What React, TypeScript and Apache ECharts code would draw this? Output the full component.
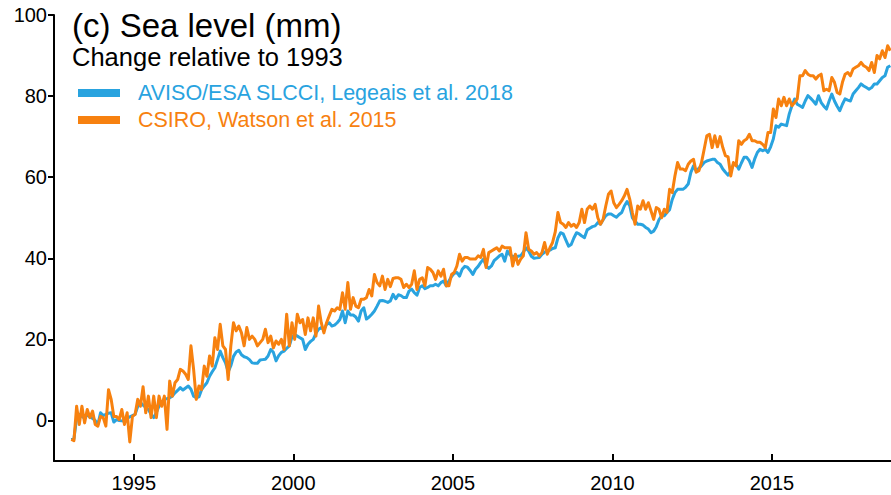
import React, { useEffect, useRef } from "react";
import * as echarts from "echarts";

// ---- data ----
const START_YEAR = 1993; // monthly values, first month = Jan 1993
const xTickYears = [1995, 2000, 2005, 2010, 2015];
const yTickValues = [0, 20, 40, 60, 80, 100];
const seriesNames = ["AVISO/ESA SLCCI, Legeais et al. 2018", "CSIRO, Watson et al. 2015"];
const titleText = "(c) Sea level (mm)";
const subtitleText = "Change relative to 1993";

// AVISO/ESA SLCCI, mm, one row per year
const avisoMm = [
  -4.7, -4.5, 0.5, 1.5, 1, 0.5, 1.5, 0.8, 0.5, 0, -1, 1.9,
  1.2, 1.5, 1.8, 1.9, -0.4, 0.2, 0, -0.1, -0.2, 0.5, 0.9, 1.2,
  1.5, 3.5, 4.4, 3.8, 3.2, 2.7, 1.5, 0.7, 2, 3.5, 4.5, 5.2,
  5.4, 5.6, 6, 6.8, 7.4, 8.1, 7.5, 8, 8.5, 7.7, 6, 5.6,
  5.8, 7.6, 8.5, 9.3, 10.9, 12, 13, 15, 17.1, 15.5, 14.2, 12,
  13.5, 15.8, 16.9, 17.3, 16.2, 15.7, 15.5, 15, 14.2, 14.1, 14.1, 14.9,
  15, 15.1, 15.9, 17.5, 16.8, 14.7, 16, 16.8, 17.1, 17.8, 18.4, 20.6,
  21.2, 20.8, 20.4, 20, 17.5, 18.8, 19.5, 20, 21.5, 22.5, 22.9, 22.4,
  23.7, 24.1, 23.3, 23.5, 24.1, 24.9, 27, 24.1, 27, 26, 26, 25.5,
  24.5, 27, 27.8, 25, 25.5, 26.2, 27, 28.2, 29.5, 29.6, 29.4, 29.1,
  29.5, 31.1, 30, 31, 30.8, 30.3, 30.3, 31.9, 32.4, 31.5, 30.9, 32.8,
  33.2, 32.5, 32.8, 33.2, 33.2, 33.6, 33.2, 34, 34.4, 33.2, 34.4, 35.5,
  36.3, 36.5, 35.6, 37.3, 38, 37.8, 37, 36, 37.3, 38, 39, 39.8,
  38.1, 37.5, 38.1, 39.4, 40, 40.6, 41, 39.3, 41.8, 40.8, 40.5, 40.3,
  40.5, 40.6, 41.5, 42.6, 41.8, 40.5, 40, 40.1, 40.2, 41, 41.5, 41.8,
  42, 42.4, 42.6, 45, 46.3, 46, 44.5, 43, 43.4, 45, 46.3, 46,
  45.5, 45.1, 47, 47.4, 47.8, 48, 48.8, 48.4, 49.5, 50.5, 50.9, 50.9,
  50.5, 50.1, 50.8, 51.3, 52.9, 54, 53, 50, 49.2, 48.4, 48.4, 48.2,
  47.6, 47.2, 46.3, 46.7, 47.8, 49.5, 50.5, 50.5, 51.3, 52, 54.5, 56.2,
  57, 57, 57, 57.5, 58.3, 61.2, 62.8, 61.5, 62.2, 62.8, 63.6, 64,
  64.2, 64.4, 64.4, 63.6, 63.2, 62, 61.2, 60.5, 61.5, 63.2, 63.2, 62,
  63.5, 64.9, 64.9, 64, 62.4, 64.5, 66.1, 66.9, 66.5, 66.9, 66.1, 67.5,
  69.4, 72.7, 72.3, 73.1, 72.9, 72.7, 75.6, 77.6, 79.3, 78, 77.6, 77.2,
  78.8, 80.1, 79.5, 78.8, 78, 80.1, 78.4, 77.5, 76.8, 78.8, 80.5, 78.8,
  77.5, 76.4, 78, 79.3, 79, 78.8, 80.5, 81.3, 82.1, 83, 82.5, 82.1,
  81.7, 82.1, 83, 83, 83.8, 84.6, 85, 87.1, 87.5,
];

// CSIRO, mm, one row per year
const csiroMm = [
  -4.7, -5, 3.5, -1, 3.5, -0.6, 2.7, 0.7, 2.3, -1, -1.4, 1,
  0.7, -1.4, 7.6, 5.2, 1, 1, 0.2, 2.7, -1, 1.9, -5.3, 1,
  1.5, 5.2, 3.5, 8.3, 1.9, 6, 0.7, 6, 0.7, 6, 3.5, 6,
  -2.2, 9.7, 6, 9.3, 10.1, 12.6, 12.2, 11.4, 10.1, 18.4, 12.6, 5.2,
  8.5, 7.6, 13.4, 10.9, 15.9, 13.4, 20.4, 17.5, 23.7, 18.4, 17.5, 10.1,
  18.4, 24.1, 22.1, 23.3, 21.6, 18.4, 22.9, 20, 20.8, 20, 18.4, 19.2,
  20, 22.5, 19.2, 20.8, 17.9, 19.6, 18.8, 20, 17.5, 26.2, 18.4, 24.1,
  20, 26.2, 24.1, 24.9, 21.2, 25.3, 22.1, 25.3, 20.8, 28.2, 24.1, 21.6,
  24.1, 25.8, 27.4, 27, 27.8, 27.4, 31.5, 27.4, 34, 27.4, 30.3, 28.2,
  27.8, 29.9, 29.9, 30.3, 32.3, 30.7, 36, 34, 33.2, 35.6, 32.3, 34.8,
  33, 35, 35.2, 35.2, 34.8, 32.8, 33.6, 32.8, 33.6, 36.9, 32.3, 34.8,
  35.2, 33.2, 37.7, 37.3, 36.5, 34.8, 36.9, 35.6, 37.3, 33.2, 33.2, 36,
  36.5, 38.1, 41, 39.3, 40.2, 40.2, 39.8, 39.8, 39.8, 40.6, 40.2, 42.2,
  37.7, 41.4, 41.8, 42.2, 42.6, 41.8, 43, 42.6, 42.6, 42.6, 38.1, 41,
  38.5, 39.8, 40.6, 46.3, 42.2, 41.8, 41, 41.4, 40.6, 41.4, 43.9, 41,
  42.6, 43.9, 46.5, 51.3, 48.8, 48.4, 47.6, 48.8, 47.9, 48.4, 47.6, 48.8,
  52.1, 48.8, 52.1, 52.9, 52.1, 53.3, 50, 48.4, 49.6, 52.9, 55.8, 56.6,
  53.7, 52.5, 53.3, 54.2, 55.4, 57, 54.6, 51.3, 48.4, 52.9, 52.1, 54.2,
  52.1, 53.7, 51.7, 49.6, 52.5, 52.1, 50, 52.1, 51.3, 57, 56.2, 60.3,
  63.6, 62, 62, 61.6, 63.2, 64, 64.4, 61.2, 61.6, 63.6, 66.9, 70.2,
  70.6, 67.3, 70.2, 67.5, 70, 67.3, 65.3, 65, 60.3, 63.6, 62.8, 69,
  68.1, 69, 69.4, 70.6, 69, 69, 68.6, 68.6, 68.1, 67.3, 71, 71,
  76.8, 74.7, 79.3, 77.6, 79.7, 77.6, 79.3, 77.6, 78.4, 79.3, 85, 85,
  86.3, 85.4, 85, 85, 84.2, 85, 85.4, 81.3, 81.7, 81.3, 84.6, 83.4,
  80.9, 80.5, 83.4, 85.4, 85.8, 85, 86.7, 87.1, 87.5, 88.3, 87.5, 87.1,
  86.3, 88.3, 85.8, 90, 89.2, 91.2, 89.5, 92.4, 91.2,
];

const BLUE = "#29a3df";
const ORANGE = "#f7810f";
const FONT = "'Liberation Sans', Arial, Helvetica, sans-serif";

function toPairs(values: number[]): [number, number][] {
  return values.map((v, i) => [START_YEAR + (i + 0.5) / 12, v]);
}

export default function App() {
  const ref = useRef<HTMLDivElement>(null);

  useEffect(() => {
    if (!ref.current) return;
    const chart = echarts.init(ref.current, undefined, { renderer: "svg" });
    const axisColor = "#000";
    chart.setOption({
      animation: false,
      backgroundColor: "#ffffff",
      textStyle: { fontFamily: FONT },
      title: {
        text: titleText,
        subtext: subtitleText,
        left: 72,
        top: 9,
        padding: 0,
        itemGap: 2,
        textStyle: { fontSize: 33, fontWeight: "normal", color: "#000", fontFamily: FONT },
        subtextStyle: { fontSize: 25.5, color: "#000", fontFamily: FONT },
      },
      legend: {
        orient: "vertical",
        left: 78,
        top: 82,
        padding: 0,
        itemWidth: 42,
        itemHeight: 8,
        itemGap: 5,
        icon: "rect",
        selectedMode: false,
        textStyle: { fontSize: 21.5, lineHeight: 22, padding: [0, 0, 0, 13], fontFamily: FONT },
        data: [
          { name: seriesNames[0], textStyle: { color: BLUE } },
          { name: seriesNames[1], textStyle: { color: ORANGE } },
        ],
      },
      grid: { left: 54, right: 0, top: 15, bottom: 34 },
      xAxis: {
        type: "value",
        min: 1992.5,
        max: 2018.73,
        axisLine: { show: true, onZero: false, lineStyle: { color: axisColor, width: 2 } },
        axisTick: {
          show: true,
          inside: true,
          length: 7,
          customValues: xTickYears,
          lineStyle: { color: axisColor, width: 2 },
        },
        axisLabel: {
          customValues: xTickYears,
          formatter: (v: number) => String(Math.round(v)),
          color: "#000",
          fontSize: 20,
          margin: 12,
          fontFamily: FONT,
        },
        splitLine: { show: false },
      },
      yAxis: {
        type: "value",
        min: -10,
        max: 100,
        axisLine: { show: true, onZero: false, lineStyle: { color: axisColor, width: 2 } },
        axisTick: {
          show: true,
          inside: false,
          length: 6,
          customValues: yTickValues,
          lineStyle: { color: axisColor, width: 2 },
        },
        axisLabel: {
          customValues: yTickValues,
          formatter: (v: number) => String(Math.round(v)),
          color: "#000",
          fontSize: 20,
          margin: 7,
          fontFamily: FONT,
        },
        splitLine: { show: false },
      },
      series: [
        {
          type: "line",
          name: seriesNames[0],
          data: toPairs(avisoMm),
          symbol: "none",
          color: BLUE,
          itemStyle: { color: BLUE },
          lineStyle: { color: BLUE, width: 3, join: "round" },
          z: 2,
        },
        {
          type: "line",
          name: seriesNames[1],
          data: toPairs(csiroMm),
          symbol: "none",
          color: ORANGE,
          itemStyle: { color: ORANGE },
          lineStyle: { color: ORANGE, width: 3, join: "round" },
          z: 3,
        },
      ],
    });
    return () => chart.dispose();
  }, []);

  return (
    <div
      ref={ref}
      style={{ position: "fixed", left: 0, top: 0, width: 891, height: 495, background: "#fff" }}
    />
  );
}
